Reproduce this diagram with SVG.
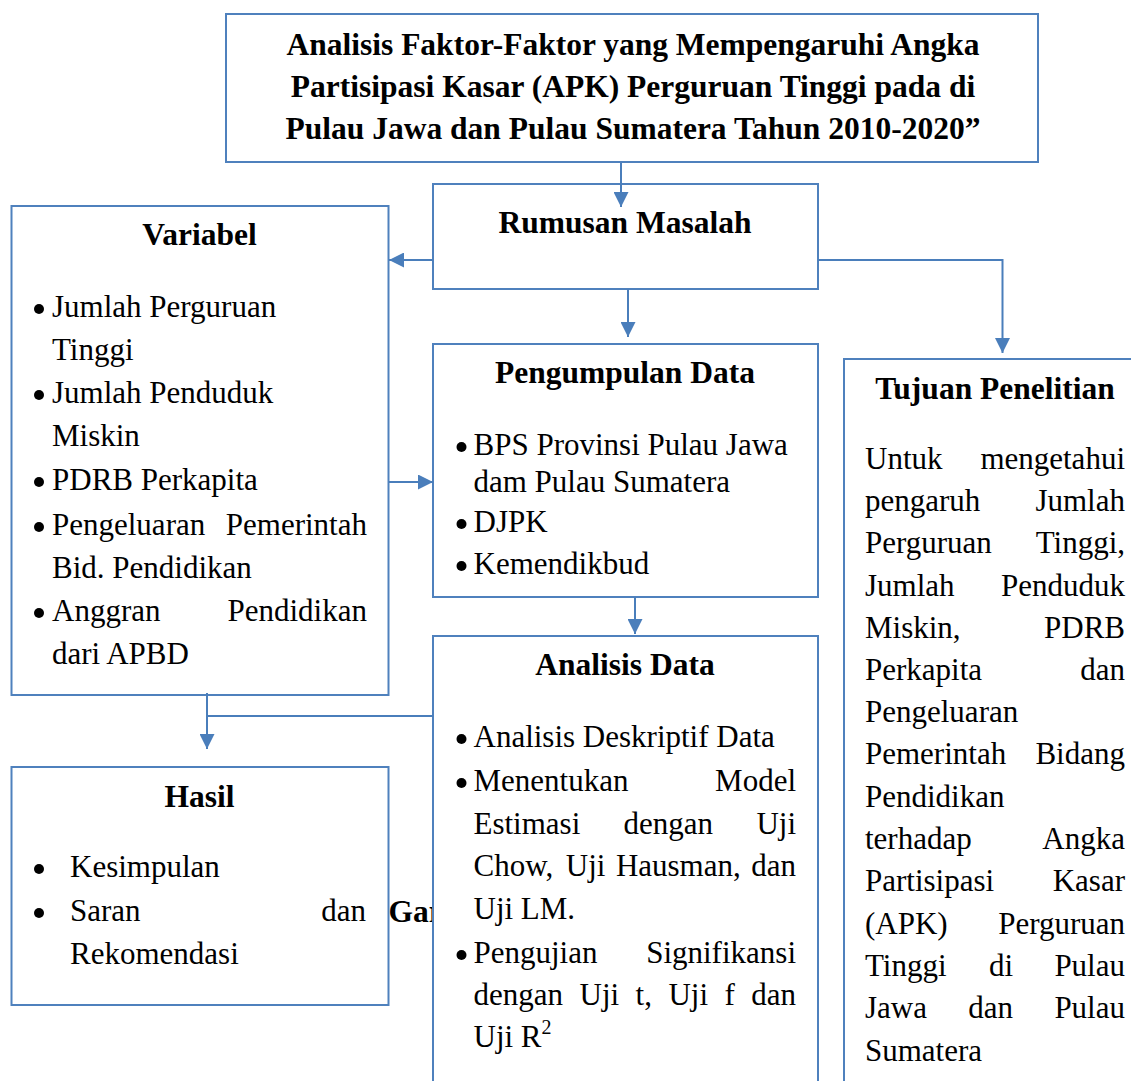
<svg xmlns="http://www.w3.org/2000/svg" width="1131" height="1081" viewBox="0 0 1131 1081">
<style>
.box{fill:#fff;stroke:#4F81BD;stroke-width:2}
.t{font-family:"Liberation Serif","Times New Roman",serif;font-size:31px;fill:#000}
.b{font-family:"Liberation Serif","Times New Roman",serif;font-size:31.5px;font-weight:bold;fill:#000}
.m{text-anchor:middle}
.e{text-anchor:end}
.c{fill:none;stroke:#4A7EBB;stroke-width:2}
.d{fill:#000}
</style>
<defs>
<marker id="arr" viewBox="0 0 10 10" refX="10" refY="5" markerWidth="15" markerHeight="15" markerUnits="userSpaceOnUse" orient="auto">
<path d="M0,0 L10,5 L0,10 z" fill="#4A7EBB"/>
</marker>
</defs>
<rect width="1131" height="1081" fill="#fff"/>

<text class="b" x="388.5" y="922">Gar</text>

<g id="judul">
<rect class="box" x="226" y="14" width="812" height="148"/>
<text class="b m" x="633" y="55">Analisis Faktor-Faktor yang Mempengaruhi Angka</text>
<text class="b m" x="633" y="97">Partisipasi Kasar (APK) Perguruan Tinggi pada di</text>
<text class="b m" x="633" y="139">Pulau Jawa dan Pulau Sumatera Tahun 2010-2020”</text>
</g>

<g id="rumusan">
<rect class="box" x="433" y="184" width="385" height="105"/>
<text class="b m" x="625" y="233">Rumusan Masalah</text>
</g>

<g id="variabel">
<rect class="box" x="11.5" y="206" width="377" height="489"/>
<text class="b m" x="199.5" y="245">Variabel</text>
<circle class="d" cx="39" cy="309" r="5"/><text class="t" x="52" y="317">Jumlah Perguruan</text>
<text class="t" x="52" y="360">Tinggi</text>
<circle class="d" cx="39" cy="395" r="5"/><text class="t" x="52" y="403">Jumlah Penduduk</text>
<text class="t" x="52" y="446">Miskin</text>
<circle class="d" cx="39" cy="482" r="5"/><text class="t" x="52" y="490">PDRB Perkapita</text>
<circle class="d" cx="39" cy="527" r="5"/><text class="t" x="52" y="535">Pengeluaran</text><text class="t e" x="367" y="535">Pemerintah</text>
<text class="t" x="52" y="578">Bid. Pendidikan</text>
<circle class="d" cx="39" cy="613" r="5"/><text class="t" x="52" y="621">Anggran</text><text class="t e" x="367" y="621">Pendidikan</text>
<text class="t" x="52" y="664">dari APBD</text>
</g>

<g id="pengumpulan">
<rect class="box" x="433" y="344" width="385" height="253"/>
<text class="b m" x="625" y="383">Pengumpulan Data</text>
<circle class="d" cx="461.5" cy="447" r="5"/><text class="t" x="473.5" y="455">BPS Provinsi Pulau Jawa</text>
<text class="t" x="473.5" y="492">dam Pulau Sumatera</text>
<circle class="d" cx="461.5" cy="524" r="5"/><text class="t" x="473.5" y="532">DJPK</text>
<circle class="d" cx="461.5" cy="566" r="5"/><text class="t" x="473.5" y="574">Kemendikbud</text>
</g>

<g id="analisis">
<rect class="box" x="433" y="636" width="385" height="470"/>
<text class="b m" x="625" y="675">Analisis Data</text>
<circle class="d" cx="461.5" cy="739" r="5"/><text class="t" x="473.5" y="747">Analisis Deskriptif Data</text>
<circle class="d" cx="461.5" cy="783" r="5"/><text class="t" x="473.5" y="791">Menentukan</text><text class="t e" x="796" y="791">Model</text>
<text class="t" x="473.5" y="834">Estimasi</text><text class="t" x="623.6" y="834">dengan</text><text class="t e" x="796" y="834">Uji</text>
<text class="t" x="473.5" y="876">Chow,</text><text class="t" x="565.8" y="876">Uji</text><text class="t" x="615.9" y="876">Hausman,</text><text class="t e" x="796" y="876">dan</text>
<text class="t" x="473.5" y="918.5">Uji LM.</text>
<circle class="d" cx="461.5" cy="955" r="5"/><text class="t" x="473.5" y="963">Pengujian</text><text class="t e" x="796" y="963">Signifikansi</text>
<text class="t" x="473.5" y="1005">dengan</text><text class="t" x="579.5" y="1005">Uji</text><text class="t" x="635.6" y="1005">t,</text><text class="t" x="668.4" y="1005">Uji</text><text class="t" x="724.5" y="1005">f</text><text class="t e" x="796" y="1005">dan</text>
<text class="t" x="473.5" y="1047">Uji R<tspan font-size="20" dy="-13">2</tspan></text>
</g>

<g id="hasil">
<rect class="box" x="11.5" y="767" width="377" height="238"/>
<text class="b m" x="199.5" y="807">Hasil</text>
<circle class="d" cx="39" cy="869" r="5"/><text class="t" x="70" y="877">Kesimpulan</text>
<circle class="d" cx="39" cy="913" r="5"/><text class="t" x="70" y="921">Saran</text><text class="t e" x="366" y="921">dan</text>
<text class="t" x="70" y="964">Rekomendasi</text>
</g>

<g id="tujuan">
<rect class="box" x="844" y="359" width="320" height="760"/>
<text class="b m" x="995" y="399">Tujuan Penelitian</text>
<text class="t" x="865" y="468.5">Untuk</text><text class="t e" x="1125" y="468.5">mengetahui</text>
<text class="t" x="865" y="511">pengaruh</text><text class="t e" x="1125" y="511">Jumlah</text>
<text class="t" x="865" y="553">Perguruan</text><text class="t e" x="1125" y="553">Tinggi,</text>
<text class="t" x="865" y="595.5">Jumlah</text><text class="t e" x="1125" y="595.5">Penduduk</text>
<text class="t" x="865" y="638">Miskin,</text><text class="t e" x="1125" y="638">PDRB</text>
<text class="t" x="865" y="680">Perkapita</text><text class="t e" x="1125" y="680">dan</text>
<text class="t" x="865" y="722">Pengeluaran</text>
<text class="t" x="865" y="764">Pemerintah</text><text class="t e" x="1125" y="764">Bidang</text>
<text class="t" x="865" y="806.5">Pendidikan</text>
<text class="t" x="865" y="849">terhadap</text><text class="t e" x="1125" y="849">Angka</text>
<text class="t" x="865" y="891">Partisipasi</text><text class="t e" x="1125" y="891">Kasar</text>
<text class="t" x="865" y="933.5">(APK)</text><text class="t e" x="1125" y="933.5">Perguruan</text>
<text class="t" x="865" y="976">Tinggi</text><text class="t" x="989" y="976">di</text><text class="t e" x="1125" y="976">Pulau</text>
<text class="t" x="865" y="1018">Jawa</text><text class="t" x="968.3" y="1018">dan</text><text class="t e" x="1125" y="1018">Pulau</text>
<text class="t" x="865" y="1060.5">Sumatera</text>
</g>

<g id="connectors">
<path class="c" d="M621,163 V207" marker-end="url(#arr)"/>
<path class="c" d="M433,260 H389" marker-end="url(#arr)"/>
<path class="c" d="M818,260 H1002.5 V353" marker-end="url(#arr)"/>
<path class="c" d="M628,289 V337" marker-end="url(#arr)"/>
<path class="c" d="M389,482 H433" marker-end="url(#arr)"/>
<path class="c" d="M635,597 V634" marker-end="url(#arr)"/>
<path class="c" d="M207,693 V749" marker-end="url(#arr)"/>
<path class="c" d="M433,716 H207"/>
</g>
</svg>
